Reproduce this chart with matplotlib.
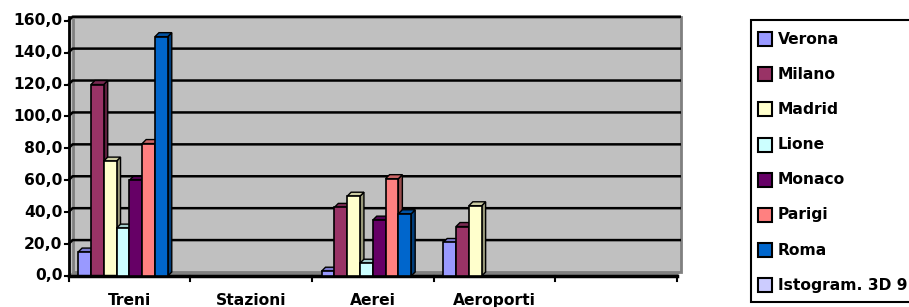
import numpy as np
import matplotlib.pyplot as plt
from matplotlib.patches import Polygon, Rectangle
from matplotlib import colors as mcolors

# dati
categorie = ["Treni", "Stazioni", "Aerei", "Aeroporti", ""]
serie = ["Verona", "Milano", "Madrid", "Lione", "Monaco", "Parigi", "Roma", "Istogram. 3D 9"]
nan = np.nan
verona = [15, nan, 3, 21, nan]
milano = [120, nan, 43, 31, nan]
madrid = [72, nan, 50, 44, nan]
lione = [30, nan, 8, nan, nan]
monaco = [60, nan, 35, nan, nan]
parigi = [83, nan, 61, nan, nan]
roma = [150, nan, 39, nan, nan]
istogram = [nan, nan, nan, nan, nan]
valori = [verona, milano, madrid, lione, monaco, parigi, roma, istogram]
colori = ["#9999FF", "#993366", "#FFFFCC", "#CCFFFF", "#660066", "#FF8080", "#0066CC", "#CCCCFF"]
yticks = [0, 20, 40, 60, 80, 100, 120, 140, 160]

W, H = 909, 307
fig = plt.figure(figsize=(W / 100, H / 100), dpi=100)
fontp = dict(family="DejaVu Sans", weight="bold", size=11.2)

# assi (frame frontale)
x0, x1, ytop, ybot = 68.5, 677, 20.7, 276
ax = fig.add_axes([x0 / W, 1 - ybot / H, (x1 - x0) / W, (ybot - ytop) / H])
ax.set_xlim(0, 5)
ax.set_ylim(0, 160)
ax.axis("off")

pxx = (x1 - x0) / 5
pxy = (ybot - ytop) / 160
dx = 4 / pxx
dy = 4 / pxy

# pareti e pavimento
ax.add_patch(Polygon([(0, 0), (dx, dy), (dx, 160 + dy), (0, 160)], closed=True,
                     fc="#C0C0C0", ec="none", zorder=0, clip_on=False))
ax.add_patch(Rectangle((dx, dy), 5, 160, fc="#C0C0C0", ec="#808080", lw=2, zorder=0, clip_on=False))
ax.add_patch(Polygon([(0, 0), (5, 0), (5 + dx, dy), (dx, dy)], closed=True,
                     fc="#808080", ec="none", zorder=1, clip_on=False))
for v in yticks[1:]:
    ax.plot([0, dx, 5 + dx], [v, v + dy, v + dy], color="black", lw=1.8, zorder=1,
            clip_on=False, solid_capstyle="butt")

# assi
ax.plot([0, 0], [0, 160 + dy], color="black", lw=2, zorder=5, clip_on=False)
ax.plot([0, 5], [0, 0], color="black", lw=2.5, zorder=5, clip_on=False)
for v in yticks:
    ax.plot([-4 / pxx, 0], [v, v], color="black", lw=1.5, clip_on=False, zorder=5)
    ax.text(-6 / pxx, v, f"{v:.1f}".replace(".", ","), ha="right", va="center", **fontp)
for k in range(6):
    ax.plot([k, k], [0, -5 / pxy], color="black", lw=1.5, clip_on=False, zorder=5)
for k, c in enumerate(categorie):
    ax.text(k + 0.5, -17 / pxy, c, ha="center", va="top", **fontp)

# barre 3D
n = len(serie)
w = 1 / (n + 1.5)
z = 2
for k in range(len(categorie)):
    for i in range(n):
        h = valori[i][k]
        if np.isnan(h):
            continue
        x = k + 0.75 * w + i * w
        base = np.array(mcolors.to_rgb(colori[i]))
        ax.add_patch(Polygon([(x + w, 0), (x + w + dx, dy), (x + w + dx, h + dy), (x + w, h)],
                             closed=True, fc=base * 0.6, ec="black", lw=1, zorder=z, clip_on=False))
        ax.add_patch(Polygon([(x, h), (x + w, h), (x + w + dx, h + dy), (x + dx, h + dy)],
                             closed=True, fc=base * 0.8, ec="black", lw=1, zorder=z, clip_on=False))
        ax.add_patch(Rectangle((x, 0), w, h, fc=base, ec="black", lw=1.2, zorder=z + 0.5, clip_on=False))
        z += 1

# legenda
lax = fig.add_axes([0, 0, 1, 1])
lax.set_xlim(0, W)
lax.set_ylim(H, 0)
lax.axis("off")
lax.add_patch(Rectangle((751, 20), 170, 282, fc="white", ec="black", lw=1.5, clip_on=False))
for i, s in enumerate(serie):
    yc = 39 + i * 35.2
    lax.add_patch(Rectangle((758, yc - 7), 14, 14, fc=colori[i], ec="black", lw=1.5))
    lax.text(778, yc, s, ha="left", va="center", **fontp)

fig.savefig("out.png", dpi=100)
